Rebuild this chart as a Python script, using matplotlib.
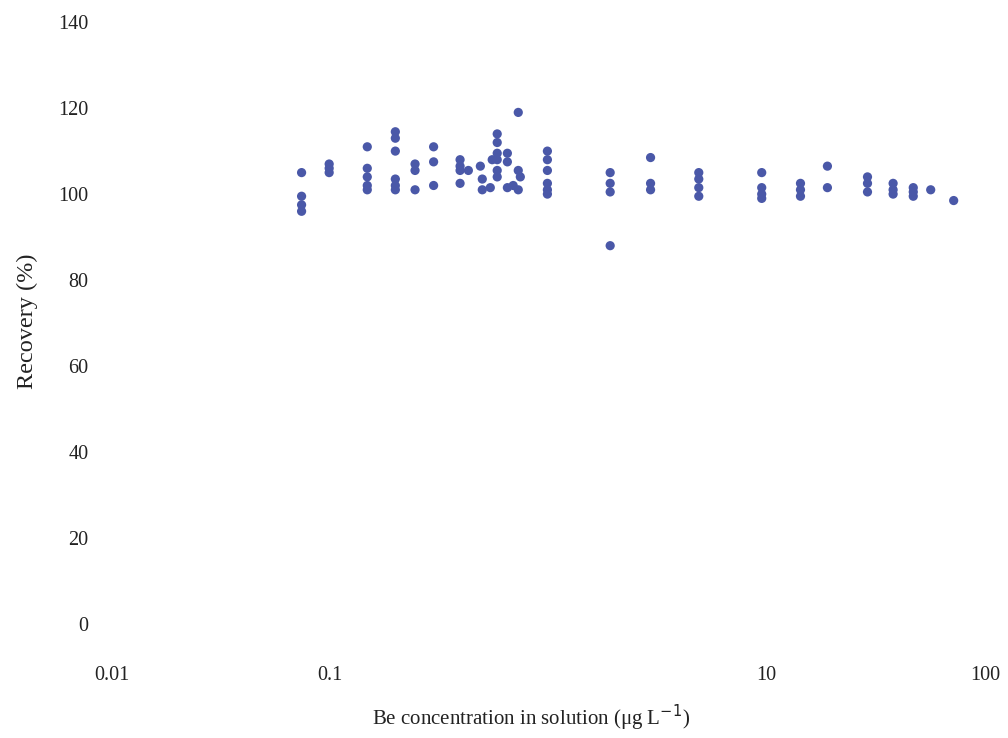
import matplotlib
matplotlib.use("Agg")
import matplotlib.pyplot as plt
import numpy as np

# Be concentration in solution (ug/L) and recovery (%)
concentration = [
    0.074, 0.074, 0.074, 0.074,
    0.099, 0.099, 0.099,
    0.148, 0.148, 0.148, 0.148, 0.148,
    0.199, 0.199, 0.199, 0.199, 0.199, 0.199,
    0.245, 0.245, 0.245,
    0.298, 0.298, 0.298,
    0.394, 0.394, 0.394, 0.394,
    0.43, 0.488, 0.498, 0.498, 0.542, 0.553,
    0.583, 0.583, 0.583, 0.583, 0.583, 0.583,
    0.649, 0.649, 0.649,
    0.69,
    0.728, 0.728, 0.728,
    0.744,
    0.99, 0.99, 0.99, 0.99, 0.99, 0.99,
    1.92, 1.92, 1.92, 1.92,
    2.94, 2.94, 2.94,
    4.89, 4.89, 4.89, 4.89,
    9.5, 9.5, 9.5, 9.5,
    14.3, 14.3, 14.3,
    19.0, 19.0,
    29.0, 29.0, 29.0,
    38.0, 38.0, 38.0,
    47.0, 47.0, 47.0,
    56.5,
    72.0,
]
recovery = [
    105, 99.5, 97.5, 96,
    107, 106, 105,
    111, 106, 104, 102, 101,
    114.5, 113, 110, 103.5, 102, 101,
    107, 105.5, 101,
    111, 107.5, 102,
    108, 106.5, 105.5, 102.5,
    105.5, 106.5, 103.5, 101, 101.5, 108,
    114, 112, 109.5, 108, 105.5, 104,
    109.5, 107.5, 101.5,
    102,
    119, 105.5, 101,
    104,
    110, 108, 105.5, 102.5, 101, 100,
    105, 102.5, 100.5, 88,
    108.5, 102.5, 101,
    105, 103.5, 101.5, 99.5,
    105, 101.5, 100, 99,
    102.5, 101, 99.5,
    106.5, 101.5,
    104, 102.5, 100.5,
    102.5, 101, 100,
    101.5, 100.5, 99.5,
    101,
    98.5,
]

x_ticks = [0.01, 0.1, 10, 100]
x_tick_labels = ["0.01", "0.1", "10", "100"]
y_ticks = [0, 20, 40, 60, 80, 100, 120, 140]

serif = ["Liberation Serif", "DejaVu Serif"]

fig = plt.figure(figsize=(10.08, 7.38), dpi=100)
ax = fig.add_axes([0.111, 0.1545, 0.866, 0.8155])

ax.scatter(concentration, recovery, s=44, color="#4a58a8", edgecolors="none", zorder=3)

ax.set_xscale("log")
ax.set_xlim(0.01, 100)
ax.set_ylim(0, 140)
ax.set_xticks(x_ticks)
ax.set_xticklabels(x_tick_labels, fontfamily=serif, fontsize=14.5, color="#222222")
ax.minorticks_off()
ax.set_yticks(y_ticks)
ax.set_yticklabels([str(v) for v in y_ticks], fontfamily=serif, fontsize=14.5, color="#222222")
ax.tick_params(axis="both", length=0)
ax.tick_params(axis="x", pad=30)
ax.tick_params(axis="y", pad=17)

for s in ax.spines.values():
    s.set_visible(False)

fig.text(531 / 1008, 1 - 718 / 738, "Be concentration in solution (\u03bcg L$^{-1}$)",
         ha="center", va="center", fontfamily=serif, fontsize=15, color="#222222")
fig.text(27 / 1008, 1 - 321 / 738, "Recovery (%)", rotation=90,
         ha="center", va="center", fontfamily=serif, fontsize=17.5, color="#222222")

fig.savefig("out.png", dpi=100, facecolor="white")
